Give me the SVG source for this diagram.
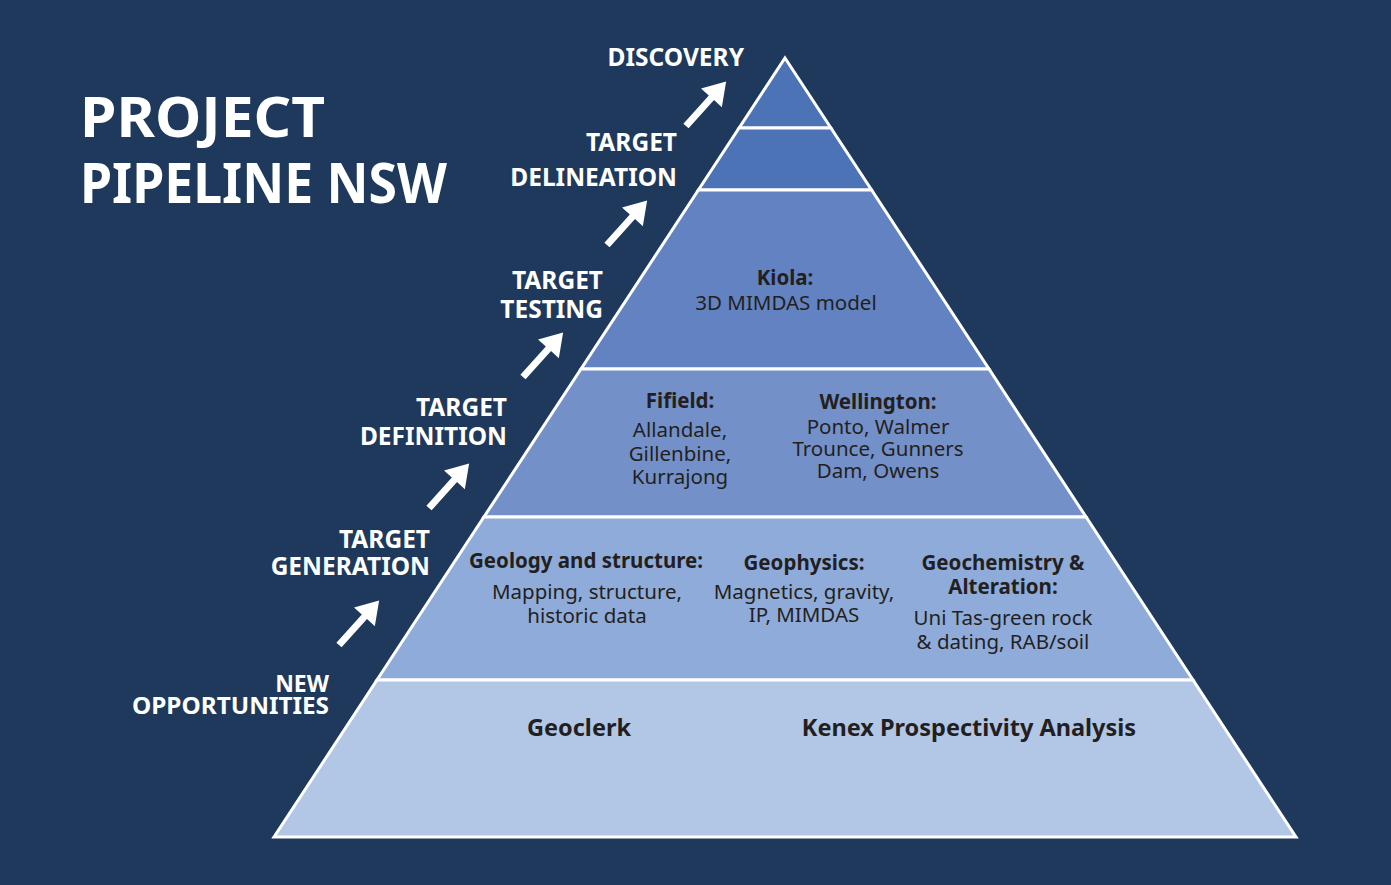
<svg xmlns="http://www.w3.org/2000/svg" width="1391" height="885" viewBox="0 0 1391 885">
<style>
.bg{fill:#1E395B}
.layer{stroke:#FFFFFF;stroke-width:3;stroke-linejoin:miter}
.title{font-family:"Noto Sans","Liberation Sans",sans-serif;font-weight:700;font-size:55px;fill:#FFFFFF}
.lbl{font-family:"Noto Sans","Liberation Sans",sans-serif;font-weight:700;font-size:24.5px;fill:#FFFFFF;text-anchor:end}
.h{font-family:"Noto Sans","Liberation Sans",sans-serif;font-weight:700;font-size:20.5px;fill:#231F20;text-anchor:middle}
.b{font-family:"Noto Sans","Liberation Sans",sans-serif;font-weight:400;font-size:20.5px;fill:#231F20;text-anchor:middle}
.hb{font-family:"Noto Sans","Liberation Sans",sans-serif;font-weight:700;font-size:23.5px;fill:#231F20;text-anchor:middle}
.arrow{fill:#FFFFFF}
</style>
<defs>
<path id="arr" d="M0,-3.5 L38,-3.5 L38,-14 L60,0 L38,14 L38,3.5 L0,3.5 Z"/>
</defs>
<rect class="bg" x="0" y="0" width="1391" height="885"/>

<g id="title">
<text class="title" x="80" y="137" textLength="245" lengthAdjust="spacingAndGlyphs">PROJECT</text>
<text class="title" x="80" y="203" textLength="367" lengthAdjust="spacingAndGlyphs">PIPELINE NSW</text>
</g>

<g id="layer-discovery">
<polygon class="layer" fill="#4D73B7" points="785,58 830.9,128 739.1,128"/>
</g>
<g id="layer-delineation">
<polygon class="layer" fill="#4D73B7" points="739.1,128 830.9,128 871.6,190 698.4,190"/>
</g>
<g id="layer-testing">
<polygon class="layer" fill="#6282C1" points="698.4,190 871.6,190 989,369 581,369"/>
<text class="h" x="785" y="285">Kiola:</text>
<text class="b" x="786" y="310">3D MIMDAS model</text>
</g>
<g id="layer-definition">
<polygon class="layer" fill="#7390C8" points="581,369 989,369 1086.1,517 483.9,517"/>
<text class="h" x="680" y="408">Fifield:</text>
<text class="b" x="680" y="437">Allandale,</text>
<text class="b" x="680" y="461">Gillenbine,</text>
<text class="b" x="680" y="484">Kurrajong</text>
<text class="h" x="878" y="409">Wellington:</text>
<text class="b" x="878" y="434">Ponto, Walmer</text>
<text class="b" x="878" y="456">Trounce, Gunners</text>
<text class="b" x="878" y="478">Dam, Owens</text>
</g>
<g id="layer-generation">
<polygon class="layer" fill="#8FABD9" points="483.9,517 1086.1,517 1193,680 377,680"/>
<text class="h" x="586" y="568">Geology and structure:</text>
<text class="b" x="587" y="599">Mapping, structure,</text>
<text class="b" x="587" y="623">historic data</text>
<text class="h" x="804" y="570">Geophysics:</text>
<text class="b" x="804" y="599">Magnetics, gravity,</text>
<text class="b" x="804" y="622">IP, MIMDAS</text>
<text class="h" x="1003" y="570">Geochemistry &amp;</text>
<text class="h" x="1003" y="594">Alteration:</text>
<text class="b" x="1003" y="625">Uni Tas-green rock</text>
<text class="b" x="1003" y="649">&amp; dating, RAB/soil</text>
</g>
<g id="layer-opportunities">
<polygon class="layer" fill="#B2C6E6" points="377,680 1193,680 1296,837 274,837"/>
<text class="hb" x="579" y="736">Geoclerk</text>
<text class="hb" x="969" y="736">Kenex Prospectivity Analysis</text>
</g>

<g id="stage-labels">
<text class="lbl" x="744" y="66">DISCOVERY</text>
<text class="lbl" x="677" y="151">TARGET</text>
<text class="lbl" x="677" y="186">DELINEATION</text>
<text class="lbl" x="603" y="289">TARGET</text>
<text class="lbl" x="603" y="318">TESTING</text>
<text class="lbl" x="507" y="416">TARGET</text>
<text class="lbl" x="507" y="445">DEFINITION</text>
<text class="lbl" x="430" y="548">TARGET</text>
<text class="lbl" x="430" y="575">GENERATION</text>
<text class="lbl" x="329" y="692" style="font-size:23px">NEW</text>
<text class="lbl" x="329" y="714" style="font-size:23px" textLength="197" lengthAdjust="spacingAndGlyphs">OPPORTUNITIES</text>
</g>

<g id="connectors">
<use href="#arr" class="arrow" transform="translate(339,645) rotate(-48)"/>
<use href="#arr" class="arrow" transform="translate(429,508) rotate(-48)"/>
<use href="#arr" class="arrow" transform="translate(523,377) rotate(-48)"/>
<use href="#arr" class="arrow" transform="translate(607,245) rotate(-48)"/>
<use href="#arr" class="arrow" transform="translate(686,126) rotate(-48)"/>
</g>
</svg>
